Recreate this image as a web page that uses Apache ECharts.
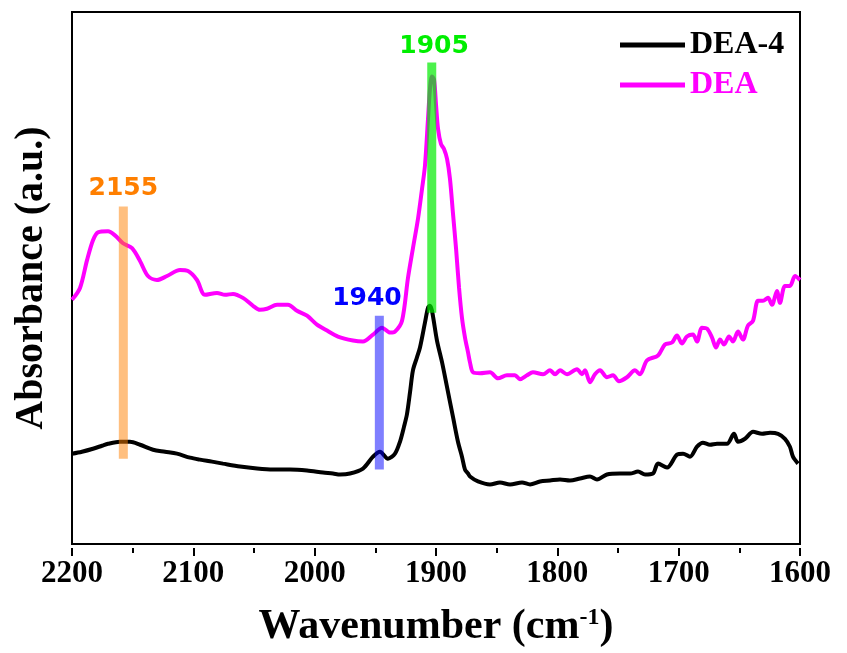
<!DOCTYPE html>
<html>
<head>
<meta charset="utf-8">
<title>FTIR DEA</title>
<script src="https://cdn.jsdelivr.net/npm/echarts@6/dist/echarts.min.js"></script>
<style>
    html, body { margin: 0; padding: 0; background: #fff; }
    #main { width: 847px; height: 653px; }
</style>
</head>
<body>
<div id="main"></div>
<script>
// wavenumber (cm-1) and absorbance (a.u.)
var wnDEA = [2200.0, 2193.4, 2187.6, 2182.7, 2178.6, 2170.3, 2164.6, 2158.0, 2150.5, 2143.9, 2137.4, 2130.0,
    2121.7, 2111.0, 2104.4, 2097.0, 2090.4, 2080.5, 2073.9, 2067.3, 2059.1, 2050.8, 2045.1, 2039.3, 2031.0,
    2022.0, 2014.6, 2006.3, 1998.1, 1989.8, 1980.8, 1968.4, 1960.2, 1951.9, 1944.5, 1937.9, 1933.8, 1928.0,
    1923.1, 1919.0, 1914.8, 1911.5, 1909.1, 1906.6, 1905.0, 1903.3, 1901.6, 1900.0, 1898.3, 1895.9, 1893.4,
    1890.9, 1888.5, 1886.0, 1883.5, 1881.0, 1878.6, 1876.1, 1873.6, 1872.0, 1869.5, 1863.7, 1855.5, 1848.9,
    1841.5, 1834.9, 1830.8, 1825.0, 1820.1, 1811.8, 1806.0, 1801.9, 1797.8, 1792.0, 1783.8, 1779.7, 1777.2,
    1773.1, 1769.0, 1764.8, 1759.1, 1754.1, 1749.2, 1742.6, 1736.0, 1731.9, 1726.1, 1717.0, 1711.3, 1705.5,
    1701.4, 1697.3, 1693.2, 1688.2, 1684.9, 1680.8, 1676.6, 1672.5, 1669.2, 1665.9, 1662.6, 1658.5, 1655.2,
    1651.1, 1647.0, 1642.9, 1638.7, 1634.6, 1630.5, 1626.4, 1623.1, 1619.0, 1616.5, 1612.4, 1608.3, 1604.1, 1600.0];
var absDEA = [246, 258, 286, 306, 314, 315, 311, 303, 298, 285, 270, 266,
    270, 276, 275, 266, 251, 253, 251, 252, 248, 240, 236, 237, 241,
    241, 235, 230, 221, 215, 209, 205, 204, 211, 218, 213, 214, 225,
    268, 298, 328, 358, 381, 428, 458, 471, 468, 443, 418, 403, 398,
    388, 368, 333, 298, 258, 228, 208, 193, 183, 173, 172, 173, 167,
    170, 170, 166, 170, 173, 171, 175, 171, 175, 171, 176, 171, 175,
    163, 171, 175, 168, 170, 164, 168, 175, 171, 185, 190, 201, 203,
    210, 202, 209, 211, 204, 218, 217, 208, 198, 206, 201, 209, 204,
    214, 206, 220, 225, 245, 245, 248, 241, 255, 243, 260, 260, 270, 266];

var wnDEA4 = [2200.0, 2191.8, 2182.7, 2175.3, 2170.3, 2160.4, 2152.2, 2143.9, 2133.2, 2123.3, 2113.5, 2102.7,
    2094.5, 2084.6, 2075.6, 2061.5, 2047.5, 2034.3, 2020.3, 2006.3, 1993.1, 1984.9, 1979.1, 1970.9, 1960.2,
    1951.9, 1946.2, 1939.6, 1933.8, 1929.7, 1926.4, 1923.9, 1921.4, 1919.0, 1915.7, 1913.2, 1909.1, 1906.6,
    1905.0, 1903.3, 1899.2, 1895.0, 1890.9, 1886.0, 1881.9, 1878.6, 1876.1, 1873.6, 1872.0, 1865.4, 1855.5,
    1847.3, 1839.0, 1829.1, 1822.5, 1814.3, 1806.0, 1797.8, 1789.6, 1781.3, 1773.1, 1767.3, 1759.1, 1748.4,
    1740.1, 1733.5, 1727.7, 1721.2, 1717.0, 1709.6, 1701.4, 1696.4, 1690.7, 1684.9, 1680.0, 1674.2, 1668.4,
    1660.2, 1654.4, 1651.1, 1645.3, 1638.7, 1631.3, 1624.7, 1618.1, 1612.4, 1608.3, 1605.8, 1601.6];
var absDEA4 = [91, 93, 96, 99, 101, 103, 103, 100, 95, 93, 91, 87,
    85, 83, 81, 78, 76, 75, 75, 74, 72, 71, 70, 71, 76,
    88, 93, 86, 91, 103, 118, 131, 153, 175, 188, 198, 223, 238,
    240, 235, 205, 183, 158, 128, 103, 88, 75, 71, 68, 63, 60,
    62, 60, 62, 60, 63, 64, 65, 64, 66, 68, 65, 70, 71,
    71, 73, 70, 71, 81, 77, 90, 91, 88, 98, 102, 100, 101,
    101, 111, 103, 106, 113, 111, 112, 111, 106, 98, 88, 81];

// marker bands: position, bottom, top, label text
var bandWn = [2157.7, 1946.7, 1903.5];
var bandLow = [86, 75, 233];
var bandHigh = [340, 230, 485];
var bandText = ['2155', '1940', '1905'];
var bandLabelWn = [2157.7, 1956.9, 1901.6];
var bandLabelAbs = [358, 247, 501];
var bandColor = ['rgba(255,128,0,0.5)', 'rgba(0,0,255,0.5)', 'rgba(0,235,0,0.7)'];
var bandTextColor = ['#ff7f00', '#0000ff', '#00ee00'];

function pairs(xs, ys) {
    var res = [];
    for (var i = 0; i < xs.length; i++) res.push([xs[i], ys[i]]);
    return res;
}

var serif = '"Liberation Serif", "Times New Roman", serif';

var series = [
    {
        name: 'DEA-4',
        type: 'line',
        data: pairs(wnDEA4, absDEA4),
        showSymbol: false,
        smooth: 0.3,
        lineStyle: { color: '#000', width: 4 },
        itemStyle: { color: '#000' },
        z: 2
    },
    {
        name: 'DEA',
        type: 'line',
        data: pairs(wnDEA, absDEA),
        showSymbol: false,
        smooth: 0.3,
        lineStyle: { color: '#ff00ff', width: 4 },
        itemStyle: { color: '#ff00ff' },
        z: 2
    }
];

var labelData = [];
for (var i = 0; i < bandWn.length; i++) {
    series.push({
        name: 'band' + i,
        type: 'line',
        data: [[bandWn[i], bandLow[i]], [bandWn[i], bandHigh[i]]],
        showSymbol: false,
        lineStyle: { color: bandColor[i], width: 9, cap: 'butt' },
        silent: true,
        z: 4
    });
    labelData.push({
        value: [bandLabelWn[i], bandLabelAbs[i]],
        label: { color: bandTextColor[i], formatter: bandText[i] }
    });
}
series.push({
    name: 'labels',
    type: 'scatter',
    data: labelData,
    symbolSize: 1,
    itemStyle: { color: 'rgba(0,0,0,0)', opacity: 1 },
    label: {
        show: true,
        position: 'inside',
        fontFamily: '"DejaVu Sans", sans-serif',
        fontWeight: 'bold',
        fontSize: 25,
        textBorderWidth: 0
    },
    emphasis: { disabled: true },
    silent: true,
    z: 5
});

// thin strips under the plot: their split lines act as the outward tick marks
function tickAxis(gridIndex, step) {
    return {
        type: 'value',
        gridIndex: gridIndex,
        min: 1600,
        max: 2200,
        interval: step,
        inverse: true,
        axisLine: { show: false },
        axisTick: { show: false },
        axisLabel: { show: false },
        splitLine: { show: true, lineStyle: { color: '#000', width: 2, type: 'solid' } }
    };
}
function hiddenY(gridIndex) {
    return { type: 'value', gridIndex: gridIndex, min: 0, max: 1, show: false, splitLine: { show: false } };
}

var option = {
    animation: false,
    backgroundColor: '#fff',
    grid: [
        {
            left: 72, right: 47, top: 12, bottom: 105,
            show: true,
            borderColor: '#000',
            borderWidth: 2
        },
        { left: 72, right: 47, top: 548, height: 8 },
        { left: 72, right: 47, top: 548, height: 5 }
    ],
    legend: {
        data: [
            { name: 'DEA-4', textStyle: { color: '#000' } },
            { name: 'DEA', textStyle: { color: '#ff00ff' } }
        ],
        orient: 'vertical',
        left: 615,
        top: 24,
        icon: 'rect',
        itemWidth: 65,
        itemHeight: 5,
        itemGap: 8,
        textStyle: { fontFamily: serif, fontWeight: 'bold', fontSize: 32 }
    },
    xAxis: [
        {
            type: 'value',
            min: 1600,
            max: 2200,
            interval: 100,
            inverse: true,
            name: 'Wavenumber (cm{sup|-1})',
            nameLocation: 'middle',
            nameGap: 62,
            nameTextStyle: {
                fontFamily: serif, fontWeight: 'bold', fontSize: 42, color: '#000',
                rich: {
                    sup: { fontFamily: serif, fontWeight: 'bold', fontSize: 24, color: '#000', verticalAlign: 'top', padding: [0, 0, 18, 0] }
                }
            },
            axisLine: { show: true, onZero: false, lineStyle: { color: '#000', width: 2 } },
            axisTick: { show: false },
            axisLabel: {
                color: '#000', fontFamily: serif, fontWeight: 'bold', fontSize: 31, margin: 14,
                formatter: function (v) { return String(v); }
            },
            splitLine: { show: false }
        },
        tickAxis(1, 100),
        tickAxis(2, 50)
    ],
    yAxis: [
        {
            type: 'value',
            min: 0,
            max: 536,
            name: 'Absorbance (a.u.)',
            nameLocation: 'middle',
            nameGap: 20,
            nameTextStyle: { fontFamily: serif, fontWeight: 'bold', fontSize: 40, color: '#000' },
            axisLine: { show: true, onZero: false, lineStyle: { color: '#000', width: 2 } },
            axisTick: { show: false },
            axisLabel: { show: false },
            splitLine: { show: false }
        },
        hiddenY(1),
        hiddenY(2)
    ],
    series: series
};

var myChart = echarts.init(document.getElementById('main'));
myChart.setOption(option);
</script>
</body>
</html>
